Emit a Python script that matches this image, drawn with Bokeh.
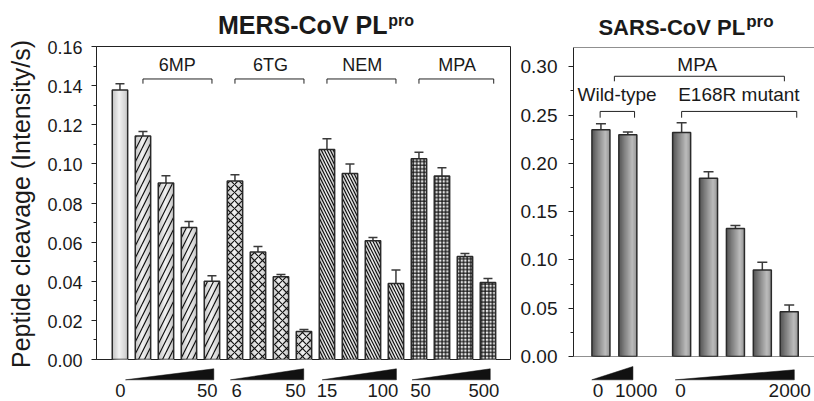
from bokeh.plotting import figure
from bokeh.models import (Range1d, FixedTicker, PrintfTickFormatter, Whisker,
                          TeeHead, ColumnDataSource, Span, CustomJSTickFormatter)
from bokeh.layouts import row, column
from bokeh.embed import file_html
from bokeh.resources import INLINE
from bokeh.core.properties import value

FONT = "Liberation Sans"
TXT = "#1a1a1a"

# ---------------- data ----------------
# MERS-CoV PLpro: control, then 4 concentrations of each inhibitor
mers_groups = ["Control"] + ["6MP"] * 4 + ["6TG"] * 4 + ["NEM"] * 4 + ["MPA"] * 4
mers_values = [0.1378, 0.1142, 0.0902, 0.0675, 0.0400,
               0.0912, 0.0550, 0.0423, 0.0143,
               0.1074, 0.0951, 0.0607, 0.0389,
               0.1026, 0.0938, 0.0527, 0.0394]
mers_errors = [0.0032, 0.0024, 0.0037, 0.0031, 0.0028,
               0.0032, 0.0028, 0.0012, 0.0010,
               0.0054, 0.0048, 0.0017, 0.0069,
               0.0033, 0.0042, 0.0015, 0.0020]
mers_bracket_names = ["6MP", "6TG", "NEM", "MPA"]
mers_conc_labels = ["0", "50", "6", "50", "15", "100", "50", "500"]
mers_yticks = [0.00, 0.02, 0.04, 0.06, 0.08, 0.10, 0.12, 0.14, 0.16]
mers_minor = [0.01, 0.03, 0.05, 0.07, 0.09, 0.11, 0.13, 0.15]

# SARS-CoV PLpro: wild-type (0, 1000) and E168R mutant (0 ... 2000), MPA
sars_names = ["WT 0", "WT 1000", "E168R 0", "E168R 2", "E168R 3", "E168R 4", "E168R 2000"]
sars_slots = [0, 1, 3, 4, 5, 6, 7]
sars_values = [0.2349, 0.2297, 0.2321, 0.1846, 0.1325, 0.0896, 0.0464]
sars_errors = [0.0062, 0.0027, 0.0100, 0.0067, 0.0031, 0.0079, 0.0069]
sars_conc_labels = ["0", "1000", "0", "2000"]
sars_yticks = [0.00, 0.05, 0.10, 0.15, 0.20, 0.25, 0.30]
sars_minor = [0.025, 0.075, 0.125, 0.175, 0.225, 0.275]

y_label = "Peptide cleavage (Intensity/s)"

# ---------------- helpers ----------------
def gray(v):
    g = int(round(max(0, min(1, v)) * 255))
    return "#%02x%02x%02x" % (g, g, g)

def profile(stops, t):
    for (t0, v0), (t1, v1) in zip(stops, stops[1:]):
        if t0 <= t <= t1:
            return v0 + (v1 - v0) * (t - t0) / (t1 - t0)
    return stops[-1][1]

def gradient_bars(p, xs, tops, width, stops, n=24):
    # left-to-right shading drawn as thin overlapping slices, left slice first
    sx, st, sc, sw = [], [], [], []
    for x, t in zip(xs, tops):
        for k in range(n):
            f = (k + 0.5) / n
            left = x - width / 2 + k * width / n
            right = x + width / 2
            sx.append((left + right) / 2)
            sw.append(right - left)
            st.append(t)
            sc.append(gray(profile(stops, f)))
    p.vbar(x=sx, top=st, bottom=0, width=sw, fill_color=sc, line_color=None)

def error_bars(p, xs, tops, errs, head=10):
    src = ColumnDataSource(dict(x=xs, top=tops, up=[t + e for t, e in zip(tops, errs)]))
    p.add_layout(Whisker(source=src, base="x", lower="top", upper="up",
                         line_color="#3a3a3a", line_width=1.5,
                         upper_head=TeeHead(size=head, line_color="#3a3a3a", line_width=1.5),
                         lower_head=None))

def tick_axis(p, ticks, minor):
    """Axis line and tick marks on the panel itself (labels live in a side strip)."""
    ax = p.yaxis[0]
    ax.ticker = FixedTicker(ticks=ticks, minor_ticks=minor)
    ax.formatter = CustomJSTickFormatter(code="return ''")
    ax.major_tick_out = 5
    ax.major_tick_in = 0
    ax.minor_tick_out = 3
    ax.minor_tick_in = 0
    ax.major_tick_line_color = "#222222"
    ax.minor_tick_line_color = "#222222"
    ax.axis_line_color = "#222222"
    ax.major_label_standoff = 0

def label_axis(p, ticks, size, standoff):
    """Tick labels only, in a full-height strip so nothing is cut."""
    ax = p.yaxis[0]
    ax.ticker = FixedTicker(ticks=ticks, minor_ticks=[])
    ax.formatter = PrintfTickFormatter(format="%.2f")
    ax.major_tick_out = 0
    ax.major_tick_in = 0
    ax.minor_tick_out = 0
    ax.minor_tick_in = 0
    ax.axis_line_color = None
    ax.major_tick_line_color = None
    ax.minor_tick_line_color = None
    ax.major_label_text_font = FONT
    ax.major_label_text_font_size = size
    ax.major_label_text_color = TXT
    ax.major_label_standoff = standoff

def bracket(p, x0, x1, ybar, ytick):
    p.line(x=[x0, x0, x1, x1], y=[ytick, ybar, ybar, ytick], line_color="#222222", line_width=1)

def txt(p, x, y, s, size, align="center", bold=False):
    p.text(x=[x], y=[y], text=[s], text_font=value(FONT), text_font_size=size,
           text_align=align, text_baseline="middle", text_color=TXT,
           text_font_style="bold" if bold else "normal")

def wedge(p, x0, x1, yb, yt):
    p.patch(x=[x0, x1, x1], y=[yb, yb, yt], fill_color="#111111", line_color="#111111", line_width=0.5)

def blank(fw, fh, xr, yr, left, right, top=0, bottom=0, yaxis=False):
    f = figure(frame_width=fw, frame_height=fh, x_range=xr, y_range=yr,
               output_backend="svg", toolbar_location=None,
               x_axis_location=None, y_axis_location="left" if yaxis else None,
               min_border_left=left, min_border_right=right,
               min_border_top=top, min_border_bottom=bottom)
    f.grid.visible = False
    f.outline_line_color = None
    return f

TOTAL_H = 401
HEAD_H = 40

# ---------------- MERS panel ----------------
L_TICKB, L_FW, L_RIGHT, L_TOP, L_FH = 6, 414, 3, 6, 313
xL = Range1d(-1.02, 16.98)
yL = Range1d(0, 0.16)

# full-height strip: tick labels + axis title
axL = blank(1, L_FH, Range1d(0, 1), yL, 89, 0,
            top=HEAD_H + L_TOP, bottom=TOTAL_H - HEAD_H - L_TOP - L_FH, yaxis=True)
label_axis(axL, mers_yticks, "18px", 7)
axL.yaxis.axis_label = y_label
axL.yaxis.axis_label_text_font = FONT
axL.yaxis.axis_label_text_font_size = "25px"
axL.yaxis.axis_label_text_font_style = "normal"
axL.yaxis.axis_label_text_color = TXT
axL.yaxis.axis_label_standoff = 9

hL = blank(L_FW, HEAD_H, xL, Range1d(0, HEAD_H), L_TICKB, L_RIGHT)
txt(hL, 11.63, 15.6, "MERS-CoV PL", "25px", align="right", bold=True)
txt(hL, 11.66, 20.5, "pro", "16px", align="left", bold=True)

pL = figure(frame_width=L_FW, frame_height=L_FH,
            x_range=xL, y_range=yL, output_backend="svg",
            toolbar_location=None, x_axis_location=None,
            min_border_left=L_TICKB, min_border_right=L_RIGHT,
            min_border_top=L_TOP, min_border_bottom=2)
pL.grid.visible = False
pL.outline_line_color = "#222222"
pL.outline_line_alpha = 1
pL.outline_line_width = 1
tick_axis(pL, mers_yticks, mers_minor)

xs_m = list(range(len(mers_values)))
BW_L = 0.67
gradient_bars(pL, xs_m, mers_values, BW_L, [(0, 0.76), (0.45, 0.95), (1, 0.78)])
hatch_of = {"Control": None, "6MP": "/", "6TG": "x", "NEM": "\\", "MPA": "+"}
scale_of = {"Control": 12, "6MP": 12, "6TG": 8, "NEM": 6, "MPA": 3.6}
for g in ["Control", "6MP", "6TG", "NEM", "MPA"]:
    idx = [i for i, gg in enumerate(mers_groups) if gg == g]
    kw = {}
    if hatch_of[g]:
        kw = dict(hatch_pattern=hatch_of[g], hatch_color="#111111",
                  hatch_scale=scale_of[g], hatch_weight=1.2)
    pL.vbar(x=[xs_m[i] for i in idx], top=[mers_values[i] for i in idx], bottom=0,
            width=BW_L, fill_alpha=0, line_color="#2a2a2a", line_width=1.5, **kw)
error_bars(pL, xs_m, mers_values, mers_errors, head=9)

mers_bracket_x = [(1, 4), (5, 8), (9, 12), (13, 16.25)]
mers_label_x = [2.49, 6.54, 10.53, 14.66]
for name, (a, b), lx in zip(mers_bracket_names, mers_bracket_x, mers_label_x):
    bracket(pL, a, b, 0.1434, 0.1410)
    txt(pL, lx, 0.1505, name, "18px")

BOT_L = TOTAL_H - HEAD_H - L_TOP - L_FH - 2
bL = blank(L_FW, BOT_L, xL, Range1d(0, BOT_L), L_TICKB, L_RIGHT)
for a, b in [(0.24, 4.08), (4.8, 7.99), (8.79, 12.02), (12.7, 16.1)]:
    wedge(bL, a, b, 21.7, 32.7)
for s, x in zip(mers_conc_labels, [0.02, 3.8, 5.07, 7.63, 9.0, 11.43, 13.07, 15.82]):
    txt(bL, x, 11, s, "18.5px")

# ---------------- SARS panel ----------------
R_TICKB, R_FW, R_TOP, R_FH = 6, 241, 7, 309
xR = Range1d(-1.02, 7.94)
yR = Range1d(0, 0.32)

axR = blank(1, R_FH, Range1d(0, 1), yR, 53, 0,
            top=HEAD_H + R_TOP, bottom=TOTAL_H - HEAD_H - R_TOP - R_FH, yaxis=True)
label_axis(axR, sars_yticks, "19px", 9)

hR = blank(R_FW, HEAD_H, xR, Range1d(0, HEAD_H), R_TICKB, 0)
txt(hR, 5.36, 12.6, "SARS-CoV PL", "22px", align="right", bold=True)
txt(hR, 5.40, 19.2, "pro", "17px", align="left", bold=True)

pR = figure(frame_width=R_FW, frame_height=R_FH,
            x_range=xR, y_range=yR, output_backend="svg",
            toolbar_location=None, x_axis_location=None,
            min_border_left=R_TICKB, min_border_right=0,
            min_border_top=R_TOP, min_border_bottom=2)
pR.grid.visible = False
pR.outline_line_color = None
tick_axis(pR, sars_yticks, sars_minor)
pR.add_layout(Span(location=0, dimension="width", line_color="#222222", line_width=1))
pR.add_layout(Span(location=0.32, dimension="width", line_color="#222222", line_width=1))

BW_R = 0.67
gradient_bars(pR, sars_slots, sars_values, BW_R, [(0, 0.33), (0.75, 0.74), (1, 0.58)])
pR.vbar(x=sars_slots, top=sars_values, bottom=0, width=BW_R, fill_alpha=0,
        line_color="#2a2a2a", line_width=1.5)
error_bars(pR, sars_slots, sars_values, sars_errors, head=10)

bracket(pR, 0.5, 6.82, 0.2902, 0.2850)
txt(pR, 3.58, 0.3024, "MPA", "19px")
bracket(pR, -0.03, 1.25, 0.2538, 0.2473)
txt(pR, 0.60, 0.2710, "Wild-type", "19px")
bracket(pR, 3.0, 7.28, 0.2538, 0.2473)
txt(pR, 5.13, 0.2710, "E168R mutant", "19px")

BOT_R = TOTAL_H - HEAD_H - R_TOP - R_FH - 2
bR = blank(R_FW, BOT_R, xR, Range1d(0, BOT_R), R_TICKB, 0)
wedge(bR, -0.34, 1.19, 21.7, 35.0)
wedge(bR, 2.76, 7.19, 21.7, 31.7)
for s, x in zip(sars_conc_labels, [-0.11, 1.31, 2.96, 7.02]):
    txt(bR, x, 11, s, "19px")

layout = row(axL, column(hL, pL, bL), axR, column(hR, pR, bR))
open("out.html", "w").write(file_html(layout, INLINE))
